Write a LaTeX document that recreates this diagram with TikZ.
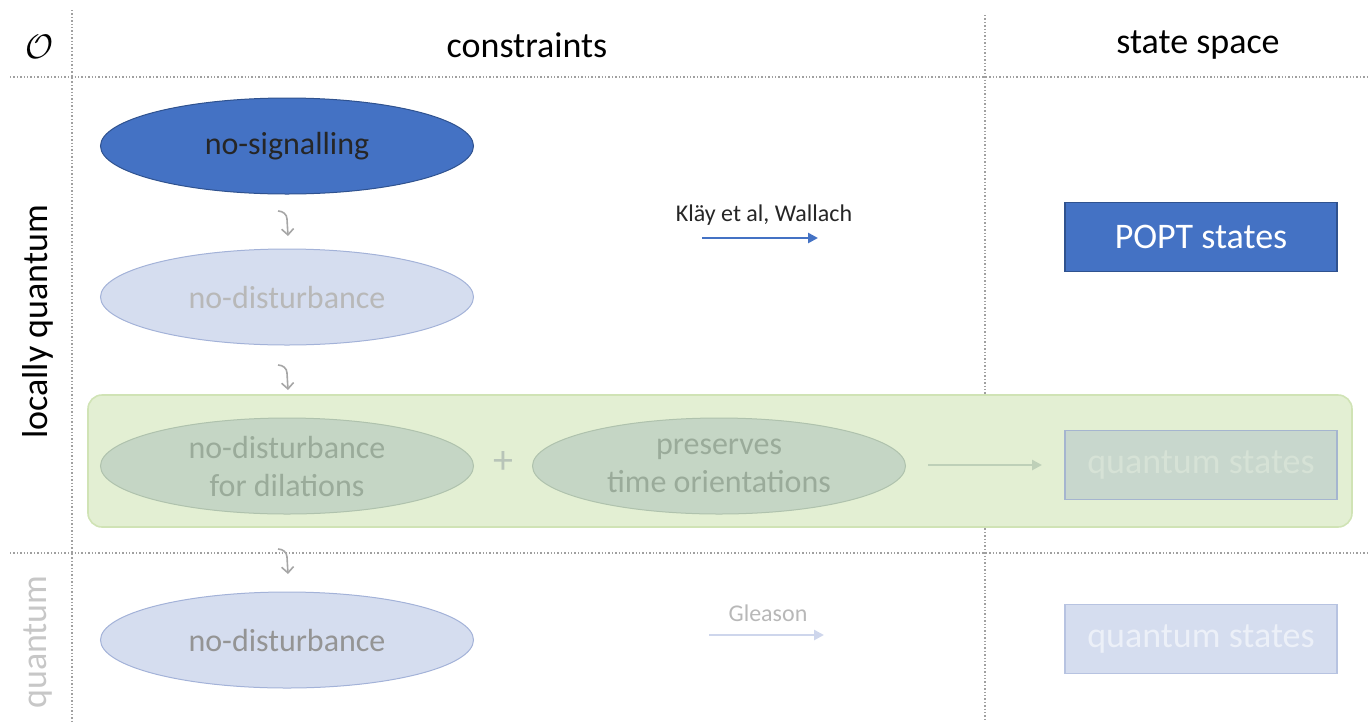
\documentclass[tikz,border=0pt]{standalone}
\usepackage{fontspec}
\setmainfont{Carlito}
\usepackage{amsmath}
\usetikzlibrary{shapes.geometric,arrows.meta}
\definecolor{bmain}{HTML}{4472C4}
\definecolor{bdark}{HTML}{2F528F}
\definecolor{lfill}{HTML}{D5DDEF}
\definecolor{ldraw}{HTML}{A3B2D8}
\definecolor{gband}{HTML}{E3EFD3}
\definecolor{gbanddraw}{HTML}{D0E3B5}
\definecolor{gell}{HTML}{C5D6C5}
\definecolor{gelldraw}{HTML}{AFC2AD}
\definecolor{gtext}{HTML}{9AAB9A}
\definecolor{gridc}{HTML}{A0A0A0}
\definecolor{hookc}{HTML}{A6A6A6}
\tikzset{
  x=1pt,y=-1pt,
  grid/.style={draw=gridc,dotted,line width=1.4pt},
  ell/.style={ellipse,minimum width=373pt,minimum height=96pt,inner sep=0pt,line width=1pt,font=\fontsize{32}{38}\selectfont,align=center},
  hook/.style={draw=hookc,line width=1.6pt,-{Straight Barb[length=6pt,width=12pt]}},
  sbox/.style={rectangle,minimum width=272pt,minimum height=69pt,inner sep=0pt,line width=1.4pt,font=\fontsize{36}{38}\selectfont},
  head/.style={font=\fontsize{36}{38}\selectfont},
}
\begin{document}
\begin{tikzpicture}
\useasboundingbox (0,0) rectangle (1370,721);
% grid
\draw[grid] (72,10) -- (72,721);
\draw[grid] (985,15) -- (985,721);
\draw[grid] (10,77) -- (1370,77);
\draw[grid] (10,553) -- (1370,553);
% headers
\node (O) at (40,47) {\scalebox{3.4}{$\mathcal{O}$}};
\node[head] (hc) at (527,45) {constraints};
\node[head] (hs) at (1198,45) {state space};
\node[head,rotate=90] (lq) at (38,322) {locally quantum};
\node[head,rotate=90,text=black!22] (q) at (38,642) {quantum};
% green band
\node[draw=gbanddraw,fill=gband,line width=1.6pt,rounded corners=14pt,minimum width=1264pt,minimum height=132pt,inner sep=0pt] (band) at (720,461) {};
% ellipses
\node[ell,fill=bmain,draw=bdark,text=black!85] (ns) at (287,146) {no-signalling};
\node[ell,fill=lfill,draw=ldraw,text=black!28] (nd1) at (287,297) {no-disturbance};
\node[ell,fill=gell,draw=gelldraw,text=gtext] (ndd) at (287,466) {no-disturbance\\for dilations};
\node[ell,fill=gell,draw=gelldraw,text=gtext] (pto) at (719,466) {preserves\\time orientations};
\node[ell,fill=lfill,draw=ldraw,text=black!42] (nd2) at (287,640) {no-disturbance};
\node[font=\fontsize{40}{40}\selectfont,text=gtext!70] (plus) at (503,462) {+};
% hook arrows
\foreach \n/\y in {h1/223,h2/377,h3/561}{
  \coordinate (\n a) at (278,\y-12);
  \coordinate (\n b) at (288,\y+13);
  \draw[hook] (\n a) to[out=0,in=90] ++(9,8) -- (\n b);
}
% boxes
\node[sbox,fill=bmain,draw=bdark,text=white] (popt) at (1201,237) {POPT states};
\node[sbox,fill=gell!80!lfill,draw=ldraw!80!gelldraw,text=white!30!gell] (qs1) at (1201,465) {quantum states};
\node[sbox,fill=lfill,draw=ldraw!60!lfill,text=white!55!lfill] (qs2) at (1201,639) {quantum states};
% arrows
\coordinate (k1) at (702,238); \coordinate (k2) at (818,238);
\draw[bmain,line width=2.8pt,-{Triangle[length=10pt,width=10pt]}] (k1) -- (k2);
\node[font=\fontsize{24}{26}\selectfont,text=black!85] (kl) at (764,215) {Kläy et al, Wallach};
\coordinate (g1) at (928,465); \coordinate (g2) at (1042,465);
\draw[gelldraw!70!gband,line width=2.8pt,-{Triangle[length=10pt,width=10pt]}] (g1) -- (g2);
\coordinate (c1) at (709,635); \coordinate (c2) at (824,635);
\draw[lfill!85!ldraw,line width=2.8pt,-{Triangle[length=10pt,width=10pt]}] (c1) -- (c2);
\node[font=\fontsize{24}{26}\selectfont,text=black!28] (gl) at (768,613) {Gleason};
\end{tikzpicture}
\end{document}
